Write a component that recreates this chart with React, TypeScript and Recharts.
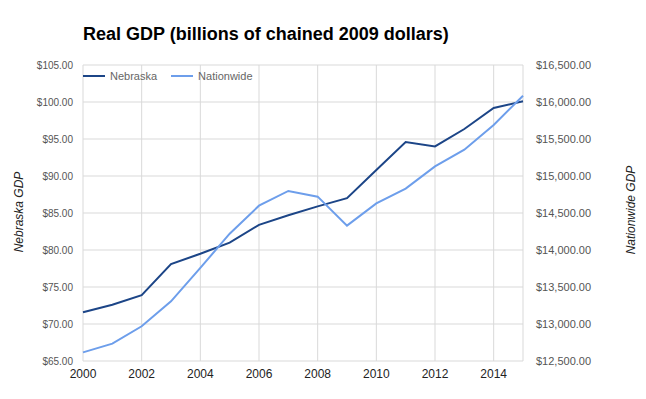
import { CartesianGrid, Line, LineChart, XAxis, YAxis } from "recharts";

const years = [2000, 2001, 2002, 2003, 2004, 2005, 2006, 2007, 2008, 2009, 2010, 2011, 2012, 2013, 2014, 2015];
const nebraska = [71.6, 72.6, 73.9, 78.1, 79.5, 81.0, 83.4, 84.7, 85.9, 87.0, 90.8, 94.6, 94.0, 96.35, 99.2, 100.1];
const nationwide = [12617, 12735, 12969, 13306, 13758, 14220, 14599, 14798, 14721, 14329, 14630, 14829, 15130, 15356, 15689, 16085];

const yearTicks = [2000, 2002, 2004, 2006, 2008, 2010, 2012, 2014];
const leftTicks = [65, 70, 75, 80, 85, 90, 95, 100, 105];
const rightTicks = [12500, 13000, 13500, 14000, 14500, 15000, 15500, 16000, 16500];

const data = years.map((year, i) => ({
  year,
  nebraska: nebraska[i],
  nationwide: nationwide[i],
}));

const font = "Arial, 'Liberation Sans', sans-serif";
const darkBlue = "#1c4587";
const lightBlue = "#6d9eeb";

const money = (v: number) =>
  "$" + v.toLocaleString("en-US", { minimumFractionDigits: 2, maximumFractionDigits: 2 });

function LegendItem({ color, label }: { color: string; label: string }) {
  return (
    <div style={{ display: "flex", alignItems: "center", marginRight: 14 }}>
      <div style={{ width: 22, height: 2, background: color, marginRight: 5 }} />
      <span>{label}</span>
    </div>
  );
}

export default function App() {
  return (
    <div style={{ position: "absolute", left: 0, top: 0, width: 646, height: 399, background: "#fff", fontFamily: font }}>
      <div style={{ position: "absolute", left: 83, top: 24, fontSize: 18, fontWeight: "bold", color: "#000" }}>
        Real GDP (billions of chained 2009 dollars)
      </div>
      <LineChart
        width={646}
        height={399}
        data={data}
        margin={{ top: 65, right: 0, bottom: 8, left: 0 }}
      >
        <CartesianGrid stroke="#d9d9d9" yAxisId="left" />
        <XAxis
          dataKey="year"
          type="number"
          domain={[2000, 2015]}
          ticks={yearTicks}
          axisLine={false}
          tickLine={false}
          tickSize={0}
          tickMargin={8}
          height={30}
          tick={{ fill: "#222", fontSize: 12, fontFamily: font }}
        />
        <YAxis
          yAxisId="left"
          domain={[65, 105]}
          ticks={leftTicks}
          tickFormatter={money}
          axisLine={false}
          tickLine={false}
          tickSize={0}
          tickMargin={10}
          width={83}
          tick={{ fill: "#555", fontSize: 10, fontFamily: font }}
        />
        <YAxis
          yAxisId="right"
          orientation="right"
          domain={[12500, 16500]}
          ticks={rightTicks}
          tickFormatter={money}
          axisLine={false}
          tickLine={false}
          tickSize={0}
          tickMargin={13}
          width={123}
          tick={{ fill: "#555", fontSize: 11, fontFamily: font }}
        />
        <Line yAxisId="left" dataKey="nebraska" stroke={darkBlue} strokeWidth={2} dot={false} isAnimationActive={false} />
        <Line yAxisId="right" dataKey="nationwide" stroke={lightBlue} strokeWidth={2} dot={false} isAnimationActive={false} />
      </LineChart>
      <div style={{ position: "absolute", left: 83, top: 70, display: "flex", fontSize: 11, color: "#666" }}>
        <LegendItem color={darkBlue} label="Nebraska" />
        <LegendItem color={lightBlue} label="Nationwide" />
      </div>
      <div
        style={{
          position: "absolute", left: 19, top: 212, fontSize: 12, fontStyle: "italic", color: "#222",
          transform: "translate(-50%, -50%) rotate(-90deg)", whiteSpace: "nowrap",
        }}
      >
        Nebraska GDP
      </div>
      <div
        style={{
          position: "absolute", left: 631, top: 210, fontSize: 12, fontStyle: "italic", color: "#222",
          transform: "translate(-50%, -50%) rotate(-90deg)", whiteSpace: "nowrap",
        }}
      >
        Nationwide GDP
      </div>
    </div>
  );
}
